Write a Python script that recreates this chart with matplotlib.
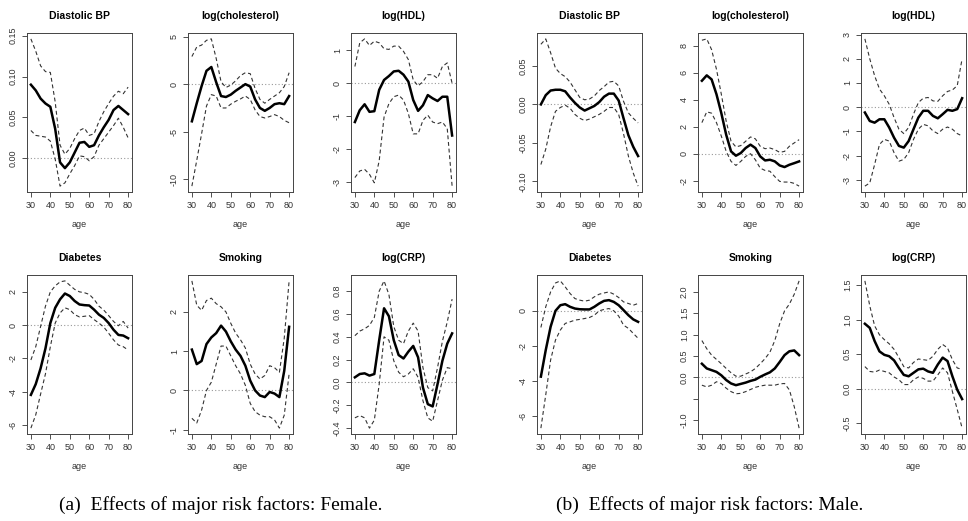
import numpy as np
import matplotlib
matplotlib.use('Agg')
import matplotlib.pyplot as plt

plt.rcParams['font.family'] = ['Liberation Sans', 'DejaVu Sans']

ages = [30, 32.5, 35, 37.5, 40, 42.5, 45, 47.5, 50, 52.5, 55, 57.5, 60,
        62.5, 65, 67.5, 70, 72.5, 75, 77.5, 80]

# Female
f_dbp_mean = [0.090, 0.083, 0.073, 0.067, 0.063, 0.036, -0.005, -0.012, -0.005, 0.007, 0.019,
              0.020, 0.014, 0.016, 0.028, 0.038, 0.047, 0.059, 0.064, 0.059, 0.054]
f_dbp_upper = [0.146, 0.131, 0.113, 0.106, 0.105, 0.069, 0.016, 0.005, 0.012, 0.024, 0.034,
               0.037, 0.028, 0.030, 0.045, 0.057, 0.067, 0.076, 0.082, 0.079, 0.087]
f_dbp_lower = [0.034, 0.028, 0.027, 0.026, 0.021, -0.001, -0.034, -0.030, -0.019, -0.009, 0.003,
               0.002, -0.003, 0.002, 0.016, 0.024, 0.032, 0.040, 0.049, 0.038, 0.025]

f_chol_mean = [-3.9, -2.0, -0.2, 1.4, 1.8, 0.2, -1.25, -1.35, -1.1, -0.7, -0.35,
               0.0, -0.25, -1.6, -2.5, -2.8, -2.5, -2.1, -2.0, -2.1, -1.25]
f_chol_upper = [2.9, 3.9, 4.1, 4.6, 4.75, 2.7, 0.25, -0.35, -0.1, 0.35, 0.9,
                1.2, 1.1, -0.45, -1.6, -2.0, -1.6, -1.25, -0.9, -0.25, 1.2]
f_chol_lower = [-10.7, -8.0, -5.2, -2.3, -1.1, -1.25, -2.5, -2.5, -2.1, -1.8, -1.55,
                -1.25, -1.6, -2.7, -3.4, -3.55, -3.4, -3.2, -3.4, -3.8, -4.05]

f_hdl_mean = [-1.18, -0.82, -0.64, -0.87, -0.85, -0.2, 0.1, 0.22, 0.36, 0.38, 0.26,
              0.05, -0.51, -0.84, -0.67, -0.36, -0.46, -0.54, -0.41, -0.41, -1.59]
f_hdl_upper = [0.51, 1.23, 1.35, 1.15, 1.28, 1.23, 1.05, 1.03, 1.13, 1.13, 0.97,
               0.72, 0.1, -0.08, 0.05, 0.26, 0.26, 0.15, 0.51, 0.62, 0.0]
f_hdl_lower = [-2.87, -2.67, -2.62, -2.77, -3.03, -2.36, -1.03, -0.62, -0.41, -0.36, -0.51,
               -0.92, -1.54, -1.54, -1.13, -0.97, -1.18, -1.23, -1.18, -1.38, -3.13]

f_diab_mean = [-4.2, -3.55, -2.6, -1.4, 0.12, 1.04, 1.55, 1.9, 1.75, 1.45, 1.24,
               1.2, 1.18, 0.93, 0.63, 0.43, 0.12, -0.28, -0.59, -0.63, -0.79]
f_diab_upper = [-2.1, -1.3, -0.08, 1.14, 2.0, 2.36, 2.6, 2.66, 2.4, 2.15, 2.0,
                1.95, 1.85, 1.55, 1.14, 0.9, 0.57, 0.22, -0.04, 0.22, -0.18]
f_diab_lower = [-6.2, -5.4, -4.15, -2.93, -1.3, 0.12, 0.73, 1.04, 0.93, 0.63, 0.49,
                0.53, 0.57, 0.33, 0.12, -0.12, -0.49, -0.89, -1.2, -1.3, -1.5]

f_smok_mean = [1.04, 0.67, 0.75, 1.18, 1.35, 1.46, 1.65, 1.5, 1.25, 1.04, 0.88,
               0.63, 0.25, 0.0, -0.13, -0.17, -0.04, -0.08, -0.17, 0.5, 1.62]
f_smok_upper = [2.79, 2.17, 2.04, 2.29, 2.35, 2.21, 2.13, 2.0, 1.71, 1.46, 1.29,
                1.08, 0.67, 0.42, 0.29, 0.38, 0.63, 0.58, 0.46, 1.33, 2.79]
f_smok_lower = [-0.71, -0.83, -0.5, 0.0, 0.21, 0.67, 1.13, 1.13, 0.88, 0.63, 0.42,
                0.13, -0.33, -0.54, -0.63, -0.67, -0.67, -0.75, -0.96, -0.63, 0.42]

f_crp_mean = [0.045, 0.074, 0.08, 0.06, 0.074, 0.37, 0.65, 0.58, 0.37, 0.24, 0.21,
              0.27, 0.32, 0.22, -0.045, -0.19, -0.21, -0.015, 0.19, 0.34, 0.43]
f_crp_upper = [0.41, 0.45, 0.47, 0.5, 0.57, 0.8, 0.89, 0.77, 0.49, 0.37, 0.34,
               0.45, 0.52, 0.45, 0.13, -0.045, -0.074, 0.13, 0.36, 0.53, 0.73]
f_crp_lower = [-0.31, -0.29, -0.31, -0.4, -0.33, -0.015, 0.4, 0.37, 0.19, 0.09, 0.05,
               0.074, 0.12, 0.045, -0.16, -0.31, -0.34, -0.16, 0.02, 0.13, 0.12]

# Male
m_dbp_mean = [0.0, 0.012, 0.018, 0.019, 0.019, 0.017, 0.009, 0.002, -0.004, -0.008, -0.005,
              -0.002, 0.003, 0.010, 0.014, 0.014, 0.005, -0.018, -0.040, -0.055, -0.067]
m_dbp_upper = [0.078, 0.085, 0.067, 0.047, 0.040, 0.036, 0.029, 0.019, 0.009, 0.006, 0.007,
               0.011, 0.018, 0.023, 0.029, 0.030, 0.024, 0.004, -0.011, -0.018, -0.024]
m_dbp_lower = [-0.078, -0.058, -0.029, -0.009, -0.004, -0.001, -0.005, -0.013, -0.018, -0.021, -0.019,
               -0.016, -0.013, -0.009, -0.004, -0.004, -0.013, -0.038, -0.067, -0.089, -0.106]

m_chol_mean = [5.4, 5.8, 5.5, 4.4, 3.0, 1.4, 0.17, -0.15, 0.05, 0.42, 0.67,
               0.42, -0.2, -0.5, -0.45, -0.57, -0.87, -0.99, -0.82, -0.7, -0.57]
m_chol_upper = [8.4, 8.5, 7.7, 6.25, 4.4, 2.4, 0.92, 0.5, 0.6, 0.92, 1.24,
                1.1, 0.55, 0.37, 0.42, 0.3, 0.1, 0.17, 0.55, 0.8, 1.04]
m_chol_lower = [2.3, 3.1, 3.0, 2.3, 1.3, 0.17, -0.57, -0.87, -0.57, -0.2, 0.0,
                -0.45, -1.07, -1.24, -1.3, -1.7, -2.05, -2.1, -2.1, -2.2, -2.4]

m_hdl_mean = [-0.22, -0.57, -0.64, -0.5, -0.5, -0.84, -1.26, -1.6, -1.67, -1.4, -0.91,
              -0.43, -0.15, -0.15, -0.36, -0.46, -0.29, -0.11, -0.15, -0.08, 0.37]
m_hdl_upper = [2.82, 2.0, 1.3, 0.75, 0.47, 0.12, -0.43, -0.91, -1.09, -0.84, -0.29,
               0.19, 0.37, 0.4, 0.26, 0.24, 0.47, 0.65, 0.71, 0.89, 2.0]
m_hdl_lower = [-3.26, -3.13, -2.37, -1.54, -1.33, -1.4, -1.88, -2.23, -2.16, -1.88, -1.33,
               -0.91, -0.71, -0.77, -0.98, -1.09, -0.91, -0.82, -0.91, -1.09, -1.19]

m_diab_mean = [-3.76, -2.24, -0.91, 0.0, 0.32, 0.38, 0.23, 0.13, 0.09, 0.08, 0.08,
               0.23, 0.42, 0.57, 0.61, 0.51, 0.32, 0.04, -0.25, -0.49, -0.63]
m_diab_upper = [-0.95, 0.23, 1.08, 1.59, 1.71, 1.37, 0.99, 0.70, 0.61, 0.55, 0.61,
                0.80, 0.95, 1.02, 1.08, 0.95, 0.76, 0.51, 0.42, 0.32, 0.42]
m_diab_lower = [-6.7, -4.8, -2.81, -1.67, -1.1, -0.72, -0.63, -0.53, -0.49, -0.44, -0.38,
                -0.25, 0.0, 0.08, 0.13, 0.0, -0.3, -0.82, -1.0, -1.29, -1.57]

m_smok_mean = [0.32, 0.21, 0.17, 0.13, 0.05, -0.06, -0.14, -0.18, -0.15, -0.12, -0.08,
               -0.05, 0.015, 0.07, 0.12, 0.21, 0.36, 0.52, 0.61, 0.63, 0.52]
m_smok_upper = [0.86, 0.67, 0.52, 0.42, 0.32, 0.21, 0.11, 0.03, 0.03, 0.08, 0.13,
                0.21, 0.32, 0.44, 0.59, 0.86, 1.25, 1.55, 1.71, 1.94, 2.25]
m_smok_lower = [-0.18, -0.22, -0.18, -0.1, -0.14, -0.25, -0.33, -0.38, -0.37, -0.33, -0.28,
                -0.23, -0.2, -0.18, -0.18, -0.18, -0.15, -0.14, -0.29, -0.68, -1.18]

m_crp_mean = [0.94, 0.88, 0.69, 0.54, 0.49, 0.47, 0.41, 0.30, 0.2, 0.18, 0.23,
              0.28, 0.29, 0.25, 0.23, 0.35, 0.45, 0.4, 0.18, -0.015, -0.15]
m_crp_upper = [1.56, 1.2, 0.91, 0.78, 0.71, 0.65, 0.57, 0.45, 0.32, 0.30, 0.38,
               0.43, 0.42, 0.41, 0.47, 0.57, 0.64, 0.59, 0.42, 0.3, 0.28]
m_crp_lower = [0.32, 0.25, 0.24, 0.27, 0.25, 0.23, 0.17, 0.13, 0.06, 0.06, 0.13,
               0.17, 0.15, 0.11, 0.11, 0.2, 0.3, 0.23, -0.04, -0.3, -0.57]

titles = ['Diastolic BP', 'log(cholesterol)', 'log(HDL)', 'Diabetes', 'Smoking', 'log(CRP)']

female = [
    (f_dbp_mean, f_dbp_upper, f_dbp_lower, [0.0, 0.05, 0.10, 0.15], ['0.00', '0.05', '0.10', '0.15']),
    (f_chol_mean, f_chol_upper, f_chol_lower, [-10, -5, 0, 5], ['-10', '-5', '0', '5']),
    (f_hdl_mean, f_hdl_upper, f_hdl_lower, [-3, -2, -1, 0, 1], ['-3', '-2', '-1', '0', '1']),
    (f_diab_mean, f_diab_upper, f_diab_lower, [-6, -4, -2, 0, 2], ['-6', '-4', '-2', '0', '2']),
    (f_smok_mean, f_smok_upper, f_smok_lower, [-1, 0, 1, 2], ['-1', '0', '1', '2']),
    (f_crp_mean, f_crp_upper, f_crp_lower, [-0.4, -0.2, 0.0, 0.2, 0.4, 0.6, 0.8],
     ['-0.4', '-0.2', '0.0', '0.2', '0.4', '0.6', '0.8']),
]
male = [
    (m_dbp_mean, m_dbp_upper, m_dbp_lower, [-0.10, -0.05, 0.0, 0.05], ['-0.10', '-0.05', '0.00', '0.05']),
    (m_chol_mean, m_chol_upper, m_chol_lower, [-2, 0, 2, 4, 6, 8], ['-2', '0', '2', '4', '6', '8']),
    (m_hdl_mean, m_hdl_upper, m_hdl_lower, [-3, -2, -1, 0, 1, 2, 3], ['-3', '-2', '-1', '0', '1', '2', '3']),
    (m_diab_mean, m_diab_upper, m_diab_lower, [-6, -4, -2, 0], ['-6', '-4', '-2', '0']),
    (m_smok_mean, m_smok_upper, m_smok_lower, [-1.0, -0.5, 0.0, 0.5, 1.0, 1.5, 2.0],
     ['-1.0', '', '0.0', '0.5', '1.0', '1.5', '2.0']),
    (m_crp_mean, m_crp_upper, m_crp_lower, [-0.5, 0.0, 0.5, 1.0, 1.5], ['-0.5', '0.0', '0.5', '1.0', '1.5']),
]

W, H = 968, 521
fig = plt.figure(figsize=(W / 100, H / 100), dpi=100)

col_left = [27, 188, 351, 537, 698, 861]
row_top = [33, 275]
ax_w, ax_h = 105, 159


def draw_panel(ax, mean, upper, lower, yticks, ylabels, title):
    ax.axhline(0, color='#999999', lw=0.8, ls=(0, (1, 2)), zorder=1)
    ax.plot(ages, upper, color='#333333', lw=0.8, ls=(0, (3.5, 2.5)))
    ax.plot(ages, lower, color='#333333', lw=0.8, ls=(0, (3.5, 2.5)))
    ax.plot(ages, mean, color='black', lw=1.8)
    lo = min(min(lower), min(mean), 0)
    hi = max(max(upper), max(mean), 0)
    pad = 0.04 * (hi - lo)
    ax.set_ylim(lo - pad, hi + pad)
    ax.set_xlim(28, 82)
    ax.set_xticks([30, 40, 50, 60, 70, 80])
    ax.set_yticks(yticks)
    ax.set_yticklabels(ylabels, rotation=90, va='center')
    ax.tick_params(axis='both', direction='out', length=3.5, width=0.6, labelsize=6.5,
                   colors='#333333', pad=3)
    for s in ax.spines.values():
        s.set_linewidth(0.7)
        s.set_color('#444444')
    ax.set_title(title, fontsize=7.5, fontweight='bold', pad=10)
    ax.set_xlabel('age', fontsize=6.5, color='#333333', labelpad=7)


for r in range(2):
    for c in range(6):
        if c < 3:
            data = female[r * 3 + c]
        else:
            data = male[r * 3 + c - 3]
        title = titles[r * 3 + (c % 3)]
        left = col_left[c] / W
        bottom = 1 - (row_top[r] + ax_h) / H
        ax = fig.add_axes([left, bottom, ax_w / W, ax_h / H])
        draw_panel(ax, data[0], data[1], data[2], data[3], data[4], title)

fig.text(221 / W, 1 - 505 / H, '(a)  Effects of major risk factors: Female.',
         ha='center', va='center', fontsize=14, family='Liberation Serif')
fig.text(710 / W, 1 - 505 / H, '(b)  Effects of major risk factors: Male.',
         ha='center', va='center', fontsize=14, family='Liberation Serif')

fig.savefig('out.png', dpi=100)
